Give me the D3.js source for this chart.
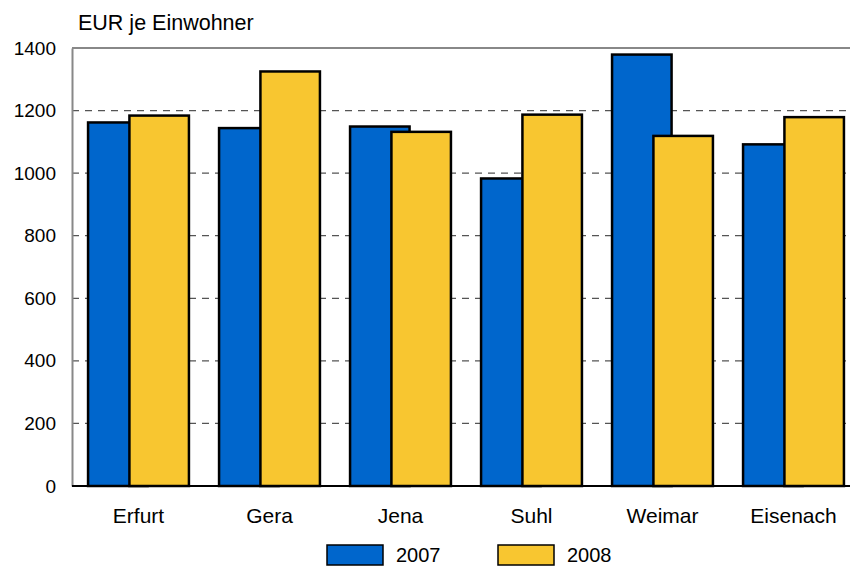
<!DOCTYPE html>
<html>
<head>
<meta charset="utf-8">
<script src="https://cdn.jsdelivr.net/npm/d3@7"></script>
<style>
  body { margin: 0; background: #fff; }
  text { font-family: "Liberation Sans", Arial, sans-serif; fill: #000; }
</style>
</head>
<body>
<div id="chart"></div>
<script>
// data
var cities = ['Erfurt', 'Gera', 'Jena', 'Suhl', 'Weimar', 'Eisenach']
var values2007 = [1162, 1144, 1149, 983, 1379, 1092]
var values2008 = [1184, 1325, 1132, 1187, 1119, 1179]
var yTicks = [0, 200, 400, 600, 800, 1000, 1200, 1400]
var years = ['2007', '2008']
var colors = ['#0066CC', '#F8C630']

var width = 850, height = 567
var svg = d3.select('#chart').append('svg').attr('width', width).attr('height', height)

var x = d3.scaleBand().domain(cities).range([73, 859]).paddingInner(0.23).paddingOuter(0.115)
var y = d3.scaleLinear().domain([0, 1400]).range([486, 48])
var bw = x.bandwidth()

// dashed grid lines
svg.append('g').selectAll('line')
  .data(yTicks.filter(d => d > 0 && d < 1400))
  .enter().append('line')
    .attr('x1', 72).attr('x2', width)
    .attr('y1', d => y(d)).attr('y2', d => y(d))
    .attr('stroke', '#555').attr('stroke-width', 1.3)
    .attr('stroke-dasharray', '7,6')

// top frame line
svg.append('line').attr('x1', 72).attr('x2', width).attr('y1', y(1400)).attr('y2', y(1400))
  .attr('stroke', '#888').attr('stroke-width', 2)

// y axis
var yAxis = d3.axisLeft(y).tickValues(yTicks).tickFormat(d3.format('d')).tickSize(0).tickPadding(16)
var ga = svg.append('g').attr('transform', 'translate(72,0)').call(yAxis)
ga.select('.domain').attr('stroke', '#888').attr('stroke-width', 2)
ga.selectAll('text').style('font-size', '19px').attr('font-family', null)

// bars
var series = [values2007, values2008]
series.forEach(function (vals, k) {
  svg.append('g').selectAll('rect')
    .data(cities)
    .enter().append('rect')
      .attr('x', d => x(d) + (k === 0 ? 0 : bw * 0.41))
      .attr('width', bw * 0.59)
      .attr('y', (d, i) => y(vals[i]))
      .attr('height', (d, i) => y(0) - y(vals[i]))
      .attr('fill', colors[k])
      .attr('stroke', '#000').attr('stroke-width', 2.5)
})

// x axis
var xAxis = d3.axisBottom(x).tickSize(0).tickPadding(22)
var gx = svg.append('g').attr('transform', 'translate(0,486)').call(xAxis)
gx.select('.domain').attr('stroke', '#000').attr('stroke-width', 2).attr('d', 'M72,0H' + width)
gx.selectAll('text').style('font-size', '21px').attr('font-family', null)

// unit label
svg.append('text').attr('x', 78).attr('y', 30).style('font-size', '21.5px').text('EUR je Einwohner')

// legend
var legendX = [327, 498]
years.forEach(function (yr, k) {
  svg.append('rect').attr('x', legendX[k]).attr('y', 545).attr('width', 56).attr('height', 20)
    .attr('fill', colors[k]).attr('stroke', '#000').attr('stroke-width', 1.5)
  svg.append('text').attr('x', legendX[k] + 69).attr('y', 562).style('font-size', '20px').text(yr)
})
</script>
</body>
</html>
